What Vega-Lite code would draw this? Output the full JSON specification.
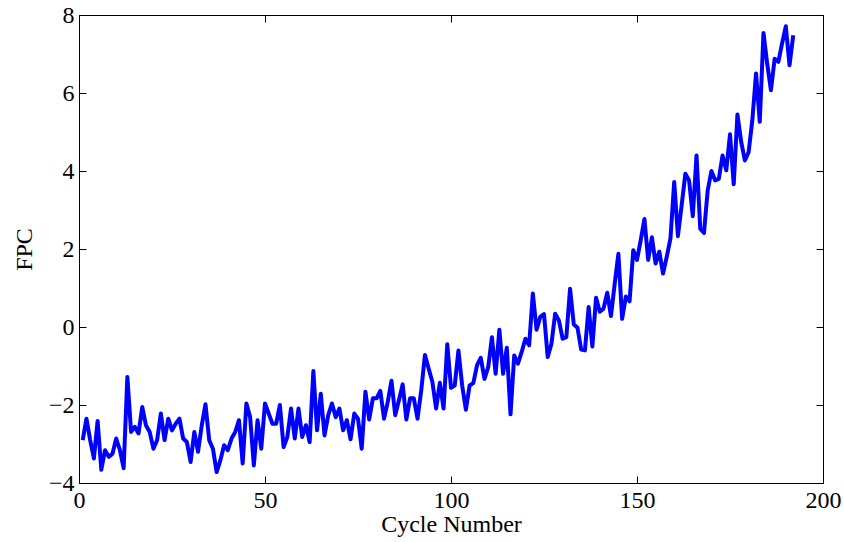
{
  "$schema": "https://vega.github.io/schema/vega-lite/v6.json",
  "autosize": {"type": "none"},
  "width": 744,
  "height": 468,
  "padding": {"left": 79, "top": 15, "right": 21, "bottom": 59},
  "background": "white",
  "config": {
    "view": {"stroke": "black", "strokeWidth": 1},
    "axis": {
      "grid": false,
      "domainColor": "black",
      "tickColor": "black",
      "labelColor": "black",
      "titleColor": "black",
      "labelFont": "Liberation Serif",
      "titleFont": "Liberation Serif",
      "labelFontSize": 24,
      "titleFontSize": 24,
      "titleFontWeight": "normal",
      "tickSize": -7,
      "labelPadding": 12,
      "labelFlush": false
    }
  },
  "data": {
    "values": [
      {"cycle":1,"fpc":-2.9},{"cycle":2,"fpc":-2.35},{"cycle":3,"fpc":-2.9},{"cycle":4,"fpc":-3.37},{"cycle":5,"fpc":-2.41},
      {"cycle":6,"fpc":-3.66},{"cycle":7,"fpc":-3.16},{"cycle":8,"fpc":-3.33},{"cycle":9,"fpc":-3.25},{"cycle":10,"fpc":-2.86},
      {"cycle":11,"fpc":-3.16},{"cycle":12,"fpc":-3.62},{"cycle":13,"fpc":-1.28},{"cycle":14,"fpc":-2.69},{"cycle":15,"fpc":-2.56},
      {"cycle":16,"fpc":-2.73},{"cycle":17,"fpc":-2.05},{"cycle":18,"fpc":-2.52},{"cycle":19,"fpc":-2.69},{"cycle":20,"fpc":-3.12},
      {"cycle":21,"fpc":-2.9},{"cycle":22,"fpc":-2.22},{"cycle":23,"fpc":-2.9},{"cycle":24,"fpc":-2.35},{"cycle":25,"fpc":-2.65},
      {"cycle":26,"fpc":-2.48},{"cycle":27,"fpc":-2.35},{"cycle":28,"fpc":-2.86},{"cycle":29,"fpc":-2.95},{"cycle":30,"fpc":-3.46},
      {"cycle":31,"fpc":-2.69},{"cycle":32,"fpc":-3.2},{"cycle":33,"fpc":-2.52},{"cycle":34,"fpc":-1.98},{"cycle":35,"fpc":-2.9},
      {"cycle":36,"fpc":-3.12},{"cycle":37,"fpc":-3.72},{"cycle":38,"fpc":-3.42},{"cycle":39,"fpc":-3.03},{"cycle":40,"fpc":-3.16},
      {"cycle":41,"fpc":-2.86},{"cycle":42,"fpc":-2.69},{"cycle":43,"fpc":-2.39},{"cycle":44,"fpc":-3.5},{"cycle":45,"fpc":-1.96},
      {"cycle":46,"fpc":-2.31},{"cycle":47,"fpc":-3.55},{"cycle":48,"fpc":-2.39},{"cycle":49,"fpc":-3.12},{"cycle":50,"fpc":-1.96},
      {"cycle":51,"fpc":-2.22},{"cycle":52,"fpc":-2.48},{"cycle":53,"fpc":-2.48},{"cycle":54,"fpc":-2.0},{"cycle":55,"fpc":-3.08},
      {"cycle":56,"fpc":-2.82},{"cycle":57,"fpc":-2.09},{"cycle":58,"fpc":-2.86},{"cycle":59,"fpc":-2.09},{"cycle":60,"fpc":-2.82},
      {"cycle":61,"fpc":-2.52},{"cycle":62,"fpc":-2.95},{"cycle":63,"fpc":-1.13},{"cycle":64,"fpc":-2.65},{"cycle":65,"fpc":-1.71},
      {"cycle":66,"fpc":-2.78},{"cycle":67,"fpc":-2.26},{"cycle":68,"fpc":-1.96},{"cycle":69,"fpc":-2.31},{"cycle":70,"fpc":-2.09},
      {"cycle":71,"fpc":-2.65},{"cycle":72,"fpc":-2.39},{"cycle":73,"fpc":-2.88},{"cycle":74,"fpc":-2.22},{"cycle":75,"fpc":-2.35},
      {"cycle":76,"fpc":-3.12},{"cycle":77,"fpc":-1.66},{"cycle":78,"fpc":-2.37},{"cycle":79,"fpc":-1.83},{"cycle":80,"fpc":-1.83},
      {"cycle":81,"fpc":-1.64},{"cycle":82,"fpc":-2.35},{"cycle":83,"fpc":-1.92},{"cycle":84,"fpc":-1.38},{"cycle":85,"fpc":-2.26},
      {"cycle":86,"fpc":-1.88},{"cycle":87,"fpc":-1.47},{"cycle":88,"fpc":-2.37},{"cycle":89,"fpc":-1.83},{"cycle":90,"fpc":-1.83},
      {"cycle":91,"fpc":-2.35},{"cycle":92,"fpc":-1.62},{"cycle":93,"fpc":-0.72},{"cycle":94,"fpc":-1.07},{"cycle":95,"fpc":-1.41},
      {"cycle":96,"fpc":-2.09},{"cycle":97,"fpc":-1.43},{"cycle":98,"fpc":-2.09},{"cycle":99,"fpc":-0.44},{"cycle":100,"fpc":-1.56},
      {"cycle":101,"fpc":-1.5},{"cycle":102,"fpc":-0.6},{"cycle":103,"fpc":-1.5},{"cycle":104,"fpc":-2.12},{"cycle":105,"fpc":-1.5},
      {"cycle":106,"fpc":-1.44},{"cycle":107,"fpc":-0.98},{"cycle":108,"fpc":-0.79},{"cycle":109,"fpc":-1.33},{"cycle":110,"fpc":-1.03},
      {"cycle":111,"fpc":-0.26},{"cycle":112,"fpc":-1.2},{"cycle":113,"fpc":-0.07},{"cycle":114,"fpc":-1.2},{"cycle":115,"fpc":-0.53},
      {"cycle":116,"fpc":-2.24},{"cycle":117,"fpc":-0.73},{"cycle":118,"fpc":-0.94},{"cycle":119,"fpc":-0.64},{"cycle":120,"fpc":-0.3},
      {"cycle":121,"fpc":-0.47},{"cycle":122,"fpc":0.86},{"cycle":123,"fpc":-0.07},{"cycle":124,"fpc":0.26},{"cycle":125,"fpc":0.33},
      {"cycle":126,"fpc":-0.77},{"cycle":127,"fpc":-0.43},{"cycle":128,"fpc":0.34},{"cycle":129,"fpc":0.17},{"cycle":130,"fpc":-0.3},
      {"cycle":131,"fpc":-0.26},{"cycle":132,"fpc":0.98},{"cycle":133,"fpc":0.07},{"cycle":134,"fpc":-0.02},{"cycle":135,"fpc":-0.58},
      {"cycle":136,"fpc":-0.6},{"cycle":137,"fpc":0.51},{"cycle":138,"fpc":-0.5},{"cycle":139,"fpc":0.75},{"cycle":140,"fpc":0.39},
      {"cycle":141,"fpc":0.47},{"cycle":142,"fpc":0.88},{"cycle":143,"fpc":0.28},{"cycle":144,"fpc":1.1},{"cycle":145,"fpc":1.88},
      {"cycle":146,"fpc":0.21},{"cycle":147,"fpc":0.78},{"cycle":148,"fpc":0.66},{"cycle":149,"fpc":1.97},{"cycle":150,"fpc":1.72},
      {"cycle":151,"fpc":2.23},{"cycle":152,"fpc":2.77},{"cycle":153,"fpc":1.72},{"cycle":154,"fpc":2.3},{"cycle":155,"fpc":1.63},
      {"cycle":156,"fpc":1.93},{"cycle":157,"fpc":1.37},{"cycle":158,"fpc":1.8},{"cycle":159,"fpc":2.27},{"cycle":160,"fpc":3.72},
      {"cycle":161,"fpc":2.33},{"cycle":162,"fpc":3.12},{"cycle":163,"fpc":3.93},{"cycle":164,"fpc":3.76},{"cycle":165,"fpc":2.84},
      {"cycle":166,"fpc":4.4},{"cycle":167,"fpc":2.52},{"cycle":168,"fpc":2.41},{"cycle":169,"fpc":3.5},{"cycle":170,"fpc":4.0},
      {"cycle":171,"fpc":3.76},{"cycle":172,"fpc":3.8},{"cycle":173,"fpc":4.4},{"cycle":174,"fpc":4.02},{"cycle":175,"fpc":4.94},
      {"cycle":176,"fpc":3.66},{"cycle":177,"fpc":5.45},{"cycle":178,"fpc":4.75},{"cycle":179,"fpc":4.27},{"cycle":180,"fpc":4.48},
      {"cycle":181,"fpc":5.3},{"cycle":182,"fpc":6.5},{"cycle":183,"fpc":5.26},{"cycle":184,"fpc":7.54},{"cycle":185,"fpc":6.75},
      {"cycle":186,"fpc":6.07},{"cycle":187,"fpc":6.88},{"cycle":188,"fpc":6.8},{"cycle":189,"fpc":7.27},{"cycle":190,"fpc":7.71},
      {"cycle":191,"fpc":6.71},{"cycle":192,"fpc":7.48}
    ]
  },
  "layer": [
    {
      "mark": {"type": "line", "color": "#0000FF", "strokeWidth": 4, "opacity": 0},
      "encoding": {
        "x": {"field": "cycle", "type": "quantitative", "scale": {"domain": [0, 200], "nice": false, "zero": false},
              "axis": {"orient": "top", "labels": false, "title": null, "values": [0, 50, 100, 150, 200], "domain": false}},
        "y": {"field": "fpc", "type": "quantitative", "scale": {"domain": [-4, 8], "nice": false, "zero": false},
              "axis": {"orient": "right", "labels": false, "title": null, "values": [-4, -2, 0, 2, 4, 6, 8], "domain": false}}
      }
    },
    {
      "mark": {"type": "line", "color": "#0000FF", "strokeWidth": 4, "strokeJoin": "round"},
      "encoding": {
        "x": {"field": "cycle", "type": "quantitative", "scale": {"domain": [0, 200], "nice": false, "zero": false},
              "axis": {"orient": "bottom", "title": "Cycle Number", "values": [0, 50, 100, 150, 200], "titlePadding": 0}},
        "y": {"field": "fpc", "type": "quantitative", "scale": {"domain": [-4, 8], "nice": false, "zero": false},
              "axis": {"orient": "left", "title": "FPC", "values": [-4, -2, 0, 2, 4, 6, 8], "titlePadding": 12}}
      }
    }
  ],
  "resolve": {"axis": {"x": "independent", "y": "independent"}}
}
